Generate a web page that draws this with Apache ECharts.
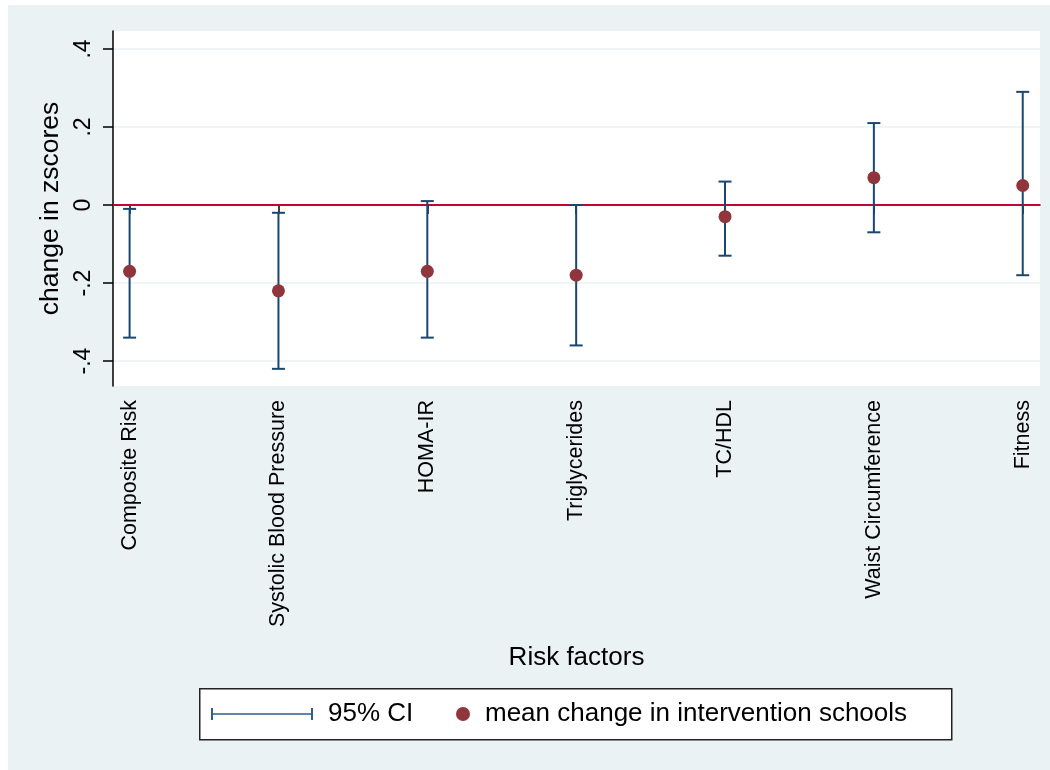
<!DOCTYPE html>
<html><head><meta charset="utf-8">
<script src="https://cdn.jsdelivr.net/npm/echarts@6/dist/echarts.min.js"></script>
<style>
html,body{margin:0;padding:0;background:#fff;}
#bg{position:absolute;left:8px;top:5px;width:1042px;height:765px;background:#EAF2F3;}
#chart{position:absolute;left:0;top:0;width:1050px;height:770px;}
</style></head><body>
<div id="bg"></div><div id="chart"></div>
<script>
const categories = ['Composite Risk','Systolic Blood Pressure','HOMA-IR','Triglycerides','TC/HDL','Waist Circumference','Fitness'];
const meanChange = [-0.17,-0.22,-0.17,-0.18,-0.03,0.07,0.05];
const ciLower = [-0.34,-0.42,-0.34,-0.36,-0.13,-0.07,-0.18];
const ciUpper = [-0.01,-0.02,0.01,0.00,0.06,0.21,0.29];
const yTicks = [-0.4,-0.2,0,0.2,0.4];
const yTickLabels = ['-.4','-.2','0','.2','.4'];
const xPositions = categories.map((c,i)=>i+1);

const FONT = "'Liberation Sans', Arial, Helvetica, sans-serif";
const NAVY = '#1a476f', MAROON = '#90353b', CRAN = '#c10534';

const chart = echarts.init(document.getElementById('chart'), null, {renderer:'canvas'});
chart.setOption({
  backgroundColor: 'transparent',
  animation: false,
  textStyle: {fontFamily: FONT, color:'#000'},
  grid: {left:113, right:10, top:31, bottom:384, backgroundColor:'#fff', show:true, borderWidth:0},
  xAxis: {
    type:'value', min:0.8885, max:7.116,
    name:'Risk factors', nameLocation:'middle', nameGap:259,
    nameTextStyle:{fontSize:26, color:'#000', fontFamily:FONT},
    axisLine:{show:true, lineStyle:{color:'#000', width:1.5}},
    axisTick:{show:true, length:9, lineStyle:{color:'#000', width:1.5}, customValues:xPositions},
    axisLabel:{customValues:xPositions, rotate:90, fontSize:21.5, margin:14, color:'#000', fontFamily:FONT,
      formatter:v=>categories[Math.round(v)-1]},
    splitLine:{show:false}
  },
  yAxis: {
    type:'value', min:-0.464, max:0.446,
    name:'change in zscores', nameLocation:'middle', nameGap:48,
    nameTextStyle:{fontSize:26.5, color:'#000', fontFamily:FONT},
    axisLine:{show:true, lineStyle:{color:'#000', width:1.5}},
    axisTick:{show:true, length:10, lineStyle:{color:'#000', width:1.5}, customValues:yTicks},
    axisLabel:{customValues:yTicks, rotate:90, fontSize:23, margin:18, color:'#000', fontFamily:FONT,
      formatter:v=>{const i=yTicks.findIndex(t=>Math.abs(t-v)<1e-9); return i>=0?yTickLabels[i]:'';}},
    splitLine:{show:true, lineStyle:{color:'#EAF2F3', width:1.5}}
  },
  legend: [
    {left:211, top:699, padding:0, itemWidth:102, itemHeight:12, selectedMode:false,
     textStyle:{fontSize:26, lineHeight:30, color:'#000', fontFamily:FONT, padding:[0,0,0,10]},
     data:[{name:'95% CI', icon:'path://M0,0h2v12h-2z M2,5.25h98v1.5h-98z M100,0h2v12h-2z', itemStyle:{color:'#2f5f8a', borderWidth:0}}]},
    {left:456, top:699, padding:0, itemWidth:14, itemHeight:14, selectedMode:false,
     textStyle:{fontSize:26, lineHeight:30, color:'#000', fontFamily:FONT, padding:[0,0,0,10]},
     data:[{name:'mean change in intervention schools', icon:'circle', itemStyle:{color:MAROON, borderWidth:0}}]}
  ],
  graphic: [
    {type:'rect', left:199, top:688, shape:{width:752, height:51}, style:{fill:'#fff', stroke:'#222', lineWidth:1.5}, z:-1, silent:true}
  ],
  series: [
    {
      name:'zero', type:'line', data:[], z:1, silent:true,
      markLine:{silent:true, z:1, symbol:['none','none'], label:{show:false},
        lineStyle:{color:CRAN, width:2, type:'solid'}, data:[{yAxis:0}]}
    },
    {
      name:'95% CI', type:'custom', z:6,
      itemStyle:{color:NAVY},
      encode:{x:0, y:[1,2]},
      data: xPositions.map((x,i)=>[x, ciLower[i], ciUpper[i]]),
      renderItem:(params, api)=>{
        const x = api.value(0), lo = api.value(1), hi = api.value(2);
        const pLo = api.coord([x, lo]), pHi = api.coord([x, hi]);
        const hw = 6.5;
        const style = {stroke:NAVY, lineWidth:2, fill:null};
        return {type:'group', children:[
          {type:'line', shape:{x1:pLo[0], y1:pLo[1], x2:pHi[0], y2:pHi[1]}, style:style},
          {type:'line', shape:{x1:pLo[0]-hw, y1:pLo[1], x2:pLo[0]+hw, y2:pLo[1]}, style:style},
          {type:'line', shape:{x1:pHi[0]-hw, y1:pHi[1], x2:pHi[0]+hw, y2:pHi[1]}, style:style}
        ]};
      }
    },
    {
      name:'mean change in intervention schools', type:'scatter', z:7,
      symbol:'circle', symbolSize:13, itemStyle:{color:MAROON, opacity:1},
      data: xPositions.map((x,i)=>[x, meanChange[i]])
    }
  ]
});
</script>
</body></html>
